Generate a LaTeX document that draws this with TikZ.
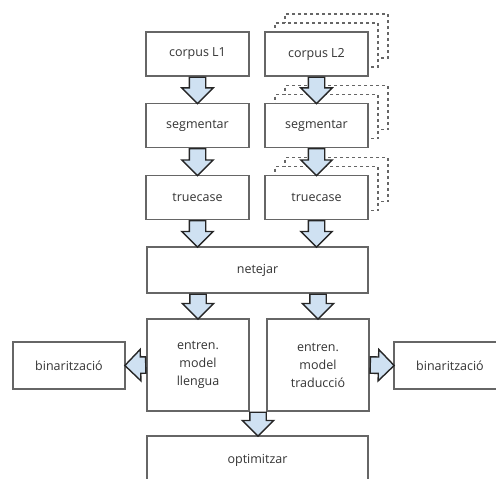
\documentclass[tikz,border=0pt]{standalone}
\usepackage{fontspec}
\setmainfont{Open Sans}
\usetikzlibrary{shapes.arrows,shadows,calc}

\definecolor{boxline}{HTML}{666666}
\definecolor{boxtext}{HTML}{333333}
\definecolor{arrowfill}{HTML}{CFE1F2}
\definecolor{arrowline}{HTML}{262626}

\tikzset{
  fatarrow/.style={to path={
    let \p1=(\tikztostart), \p2=(\tikztotarget),
        \n1={atan2(\y2-\y1,\x2-\x1)}, \n2={veclen(\x2-\x1,\y2-\y1)}
    in node[single arrow, draw=arrowline, fill=arrowfill, line width=1.4pt,
            inner xsep=0pt, inner ysep=7.5pt, minimum width=30pt,
            single arrow head extend=7.5pt,
            single arrow tip angle=90, minimum height=\n2,
            rotate=\n1, anchor=tail] at (\p1) {}
  }},
  stacked/.style={double copy shadow={shadow xshift=10pt, shadow yshift=9pt,
    dashed, draw=boxline, fill=white}}
}

\begin{document}
\begin{tikzpicture}[x=1pt, y=-1pt]
\useasboundingbox (0,0) rectangle (496,479);
\clip (0,0) rectangle (496,479);

\begin{scope}[rectangle, draw=boxline, line width=1.1pt, text=boxtext, fill=white,
  font=\fontsize{12.5}{18}\selectfont, align=center,
  minimum width=103pt, minimum height=44pt, inner sep=0pt]
  \node[draw] (corpus1) at (197.5, 54) {corpus L1};
  \node[draw, fill=white, stacked] (corpus2) at (316.5, 54) {corpus L2};
  \node[draw] (seg1) at (197.5, 125.5) {segmentar};
  \node[draw, fill=white, stacked] (seg2) at (316.5, 125.5) {segmentar};
  \node[draw] (true1) at (197.5, 197.5) {truecase};
  \node[draw, fill=white, stacked] (true2) at (316.5, 197.5) {truecase};
  \node[draw, minimum width=221pt, minimum height=46pt] (clean) at (257.5, 270) {netejar};
  \node[draw, minimum width=102pt, minimum height=92pt] (lm) at (198, 365) {entren.\\model\\llengua};
  \node[draw, minimum width=102pt, minimum height=92pt] (tm) at (318, 365) {entren.\\model\\traducció};
  \node[draw, minimum width=112pt, minimum height=47pt] (binlm) at (69, 365.5) {binarització};
  \node[draw, minimum width=112pt, minimum height=47pt] (bintm) at (450, 365.5) {binarització};
  \node[draw, minimum width=221pt, minimum height=48pt] (tune) at (257.5, 460) {optimitzar};
\end{scope}

\coordinate (join) at ($(lm.south east)!0.5!(tm.south west)$);

\path (corpus1.south) edge[fatarrow] (seg1.north);
\path (corpus2.south) edge[fatarrow] (seg2.north);
\path (seg1.south) edge[fatarrow] (true1.north);
\path (seg2.south) edge[fatarrow] (true2.north);
\path (true1.south) edge[fatarrow] (true1.south |- clean.north);
\path (true2.south) edge[fatarrow] (true2.south |- clean.north);
\path (clean.south -| lm.north) edge[fatarrow] (lm.north);
\path (clean.south -| tm.north) edge[fatarrow] (tm.north);
\path (lm.west) edge[fatarrow] (binlm.east);
\path (tm.east) edge[fatarrow] (bintm.west);
\path (join) edge[fatarrow] (join |- tune.north);

\end{tikzpicture}
\end{document}
